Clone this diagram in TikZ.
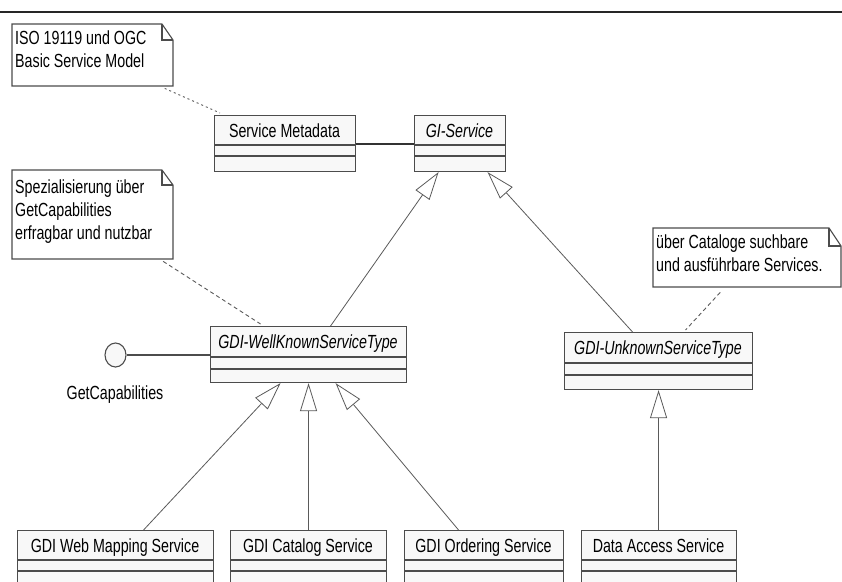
\documentclass[tikz,border=0pt]{standalone}
\usepackage{fontspec}
\setmainfont{Liberation Sans}[FakeStretch=0.75]
\usetikzlibrary{arrows.meta,calc,shapes.geometric}
\definecolor{boxline}{HTML}{4C4C4C}
\definecolor{boxfill}{HTML}{F8F8F8}
\definecolor{conn}{HTML}{5A5A5A}
\tikzset{
  cls/.style={draw=boxline, fill=boxfill, line width=1.1pt, rectangle, inner sep=0pt, anchor=north west},
  txt/.style={font=\fontsize{19}{23}\selectfont, inner sep=0pt, text=black},
  notebox/.style={draw=boxline, fill=white, line width=1.1pt},
  gen/.style={draw=conn, line width=0.8pt, -{Triangle[open, length=28pt, width=17pt, fill=white]}},
  dotlink/.style={draw=conn, line width=0.9pt, dash pattern=on 2pt off 3pt},
  dashlink/.style={draw=conn, line width=0.9pt, dash pattern=on 4pt off 3pt},
  assoc/.style={draw=black!80, line width=2pt},
}
% #1 name, #2 x1, #3 y1, #4 x2, #5 y2, #6 first divider, #7 second divider, #8 text
\newcommand{\umlcls}[8]{%
  \node[cls, minimum width={#4-#2}, minimum height={#5-#3}] (#1) at (#2,#3) {};
  \draw[boxline, line width=1.1pt] (#2,#6) -- (#4,#6) (#2,#7) -- (#4,#7);
  \node[txt, anchor=base] (#1-t) at ({(#2+#4)/2},{#3+22.5}) {#8};
}
% #1 name, #2 x1, #3 y1, #4 x2, #5 y2, #6 fold x, #7 fold y, #8 text top
\newcommand{\umlnote}[9]{%
  \node[inner sep=0pt, anchor=north west, minimum width={#4-#2}, minimum height={#5-#3}] (#1) at (#2,#3) {};
  \draw[notebox] (#2,#3) -- (#6,#3) -- (#4,#7) -- (#4,#5) -- (#2,#5) -- cycle;
  \draw[boxline, line width=1.1pt] (#6,#3) -- (#6,#7) -- (#4,#7);
  \node[txt, anchor=north west, align=left] (#1-t) at ({#2+3},#8) {#9};
}
\begin{document}
\begin{tikzpicture}[x=1pt,y=-1pt]
\useasboundingbox (0,0) rectangle (842,581);
\clip (0,0) rectangle (842,581);
\fill[white] (0,0) rectangle (842,581);
% top rule
\draw[black!85, line width=2pt] (0,12) -- (842,12);

% notes
\umlnote{n1}{12}{24}{173}{86}{162}{40}{31}{ISO 19119 und OGC\\Basic Service Model}
\umlnote{n2}{12}{170}{173}{259}{162}{185}{179.5}{Spezialisierung über\\GetCapabilities\\erfragbar und nutzbar}
\umlnote{n3}{653}{228}{841}{287}{829}{246}{234.5}{über Cataloge suchbare\\und ausführbare Services.}

% classes
\umlcls{sm}{214}{115}{355}{171}{145}{156}{Service Metadata}
\umlcls{gi}{414}{115}{505}{171}{145}{156}{\itshape GI-Service}
\umlcls{wk}{210}{326}{406}{382}{357}{369}{\itshape GDI-WellKnownServiceType}
\umlcls{uk}{564}{332}{752}{389}{363}{375}{\itshape GDI-UnknownServiceType}
\umlcls{wms}{17}{530}{213}{600}{560}{571}{GDI Web Mapping Service}
\umlcls{cat}{230}{530}{386}{600}{560}{571}{GDI Catalog Service}
\umlcls{ord}{404}{530}{563}{600}{560}{571}{GDI Ordering Service}
\umlcls{das}{581}{530}{736}{600}{560}{571}{Data Access Service}

% interface lollipop
\node[draw=boxline, fill=boxfill, line width=1.1pt, ellipse, minimum width=21pt, minimum height=24pt, inner sep=0pt] (ifc) at (115.5,355) {};
\node[txt, anchor=base] (ifc-t) at (115,399) {GetCapabilities};
\draw[boxline, line width=1.1pt] (ifc.east) -- (ifc.east -| wk.west);

% association
\draw[assoc] (sm.east) -- (gi.west);

% generalizations
\draw[gen] ($(wk.north)+(22,0)$) -- ($(gi.south)+(-21.5,0)$);
\draw[gen] ($(uk.north)+(-26,0)$) -- ($(gi.south)+(27.5,0)$);
\draw[gen] ($(wms.north)+(28,0)$) -- ($(wk.south)+(-28,0)$);
\draw[gen] (cat.north) -- (wk.south);
\draw[gen] ($(ord.north)+(-25.5,0)$) -- ($(wk.south)+(27,0)$);
\draw[gen] ($(das.north)+(-0.5,0)$) -- ($(uk.south)+(0,0)$);

% note anchors
\draw[dotlink] ($(n1.south)+(72,2)$) -- ($(sm.north west)+(6,-2)$);
\draw[dashlink] ($(n2.south)+(70.5,2)$) -- ($(wk.north)+(-48,-2)$);
\draw[dashlink] ($(n3.south)+(-27,5)$) -- ($(uk.north)+(27,-2)$);
\end{tikzpicture}
\end{document}
